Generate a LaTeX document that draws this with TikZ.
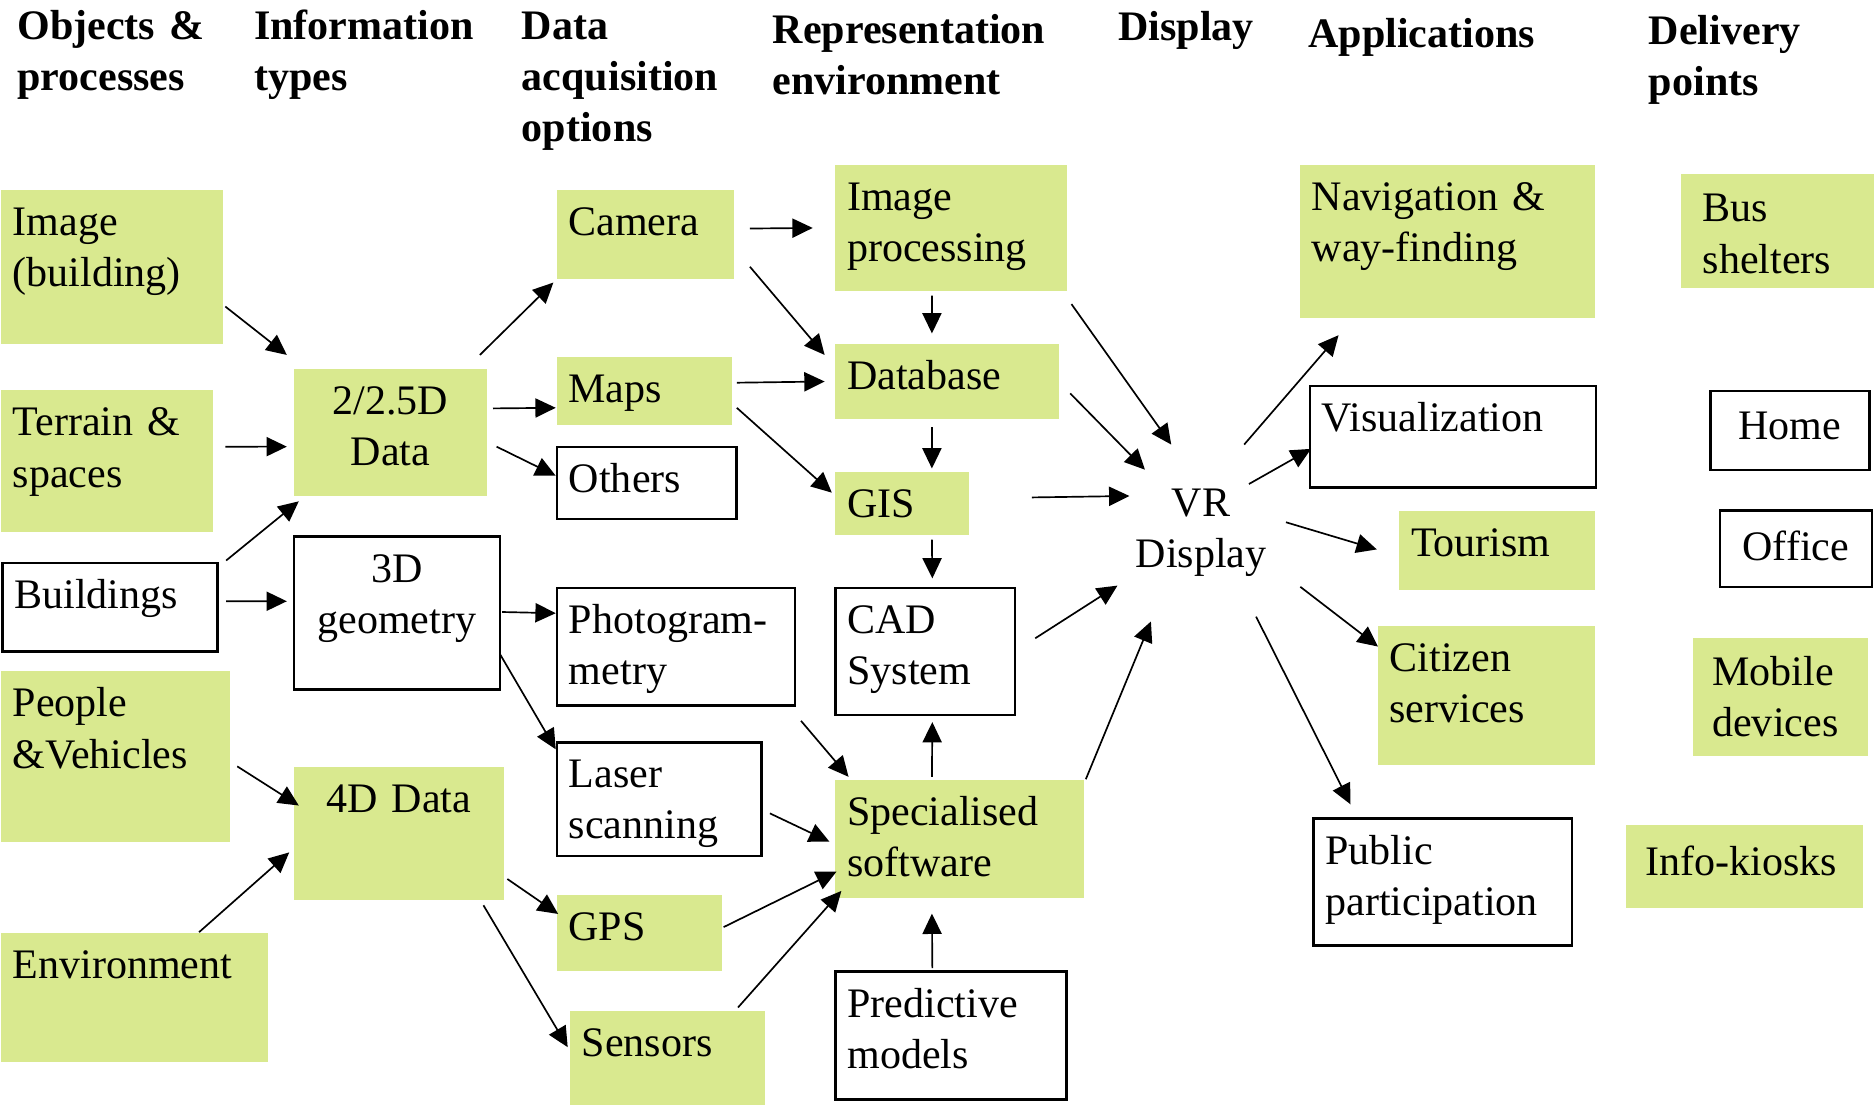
\documentclass[tikz,border=0pt]{standalone}
\usepackage{fontspec}
\setmainfont{Liberation Serif}
\usepackage{xcolor}
\usetikzlibrary{arrows.meta}
\definecolor{leaf}{RGB}{217,233,143}
\tikzstyle{myGreen}=[anchor=north west, fill=leaf, inner xsep=0.1cm, inner ysep=0pt, text height=0.38cm, align=left]
\tikzstyle{myWhite}=[myGreen, fill=white, draw, line width=0.6pt]
\tikzstyle{myHead}=[anchor=base west, inner sep=0pt, text width=2.6cm, align=left, font=\fontsize{10}{12.2}\selectfont\bfseries]
\tikzstyle{myPath}=[-{Triangle[length=0.17cm,width=0.16cm]}, line width=0.4pt]

\begin{document}
\begin{tikzpicture}[x=0.01cm, y=-0.01cm, font=\fontsize{10}{12.2}\selectfont]
   \useasboundingbox (0,0) rectangle (1568,925);

   % Column headings
   \node[myHead] (hObj) at (14,33) {Objects \&\\processes};
   \node[myHead] (hInfo) at (212,33) {Information\\types};
   \node[myHead] (hData) at (436,33) {Data\\acquisition\\options};
   \node[myHead] (hRep) at (646,36) {Representation\\environment};
   \node[myHead] (hDisp) at (935,34) {Display};
   \node[myHead] (hApp) at (1094,40) {Applications};
   \node[myHead] (hDel) at (1379,37) {Delivery\\points};

   % Objects and processes
   \node[myGreen, text width=1.66cm, text depth=0.91cm] (img) at (0,158) {Image\\(building)};
   \node[myGreen, text width=1.57cm, text depth=0.80cm] (ter) at (0,326) {Terrain \&\\spaces};
   \node[myWhite, text width=1.60cm, text depth=0.36cm] (bld) at (1,470) {Buildings};
   \node[myGreen, text width=1.72cm, text depth=1.05cm] (ppl) at (0,561) {People\\\&Vehicles};
   \node[myGreen, text width=2.03cm, text depth=0.70cm] (env) at (0,780) {Environment};

   % Information types
   \node[myGreen, align=center, text width=1.42cm, text depth=0.68cm] (d2) at (245,308) {2/2.5D\\Data};
   \node[myWhite, align=center, text width=1.52cm, text depth=0.90cm] (d3) at (245,448) {3D\\geometry};
   \node[myGreen, align=center, text width=1.56cm, text depth=0.73cm] (d4) at (245,641) {4D Data};

   % Data acquisition
   \node[myGreen, text width=1.28cm, text depth=0.37cm] (cam) at (465,158) {Camera};
   \node[myGreen, text width=1.27cm, text depth=0.19cm] (maps) at (465,298) {Maps};
   \node[myWhite, text width=1.30cm, text depth=0.22cm] (oth) at (465,373) {Others};
   \node[myWhite, text width=1.79cm, text depth=0.60cm] (pho) at (465,491) {Photogram-\\metry};
   \node[myWhite, text width=1.51cm, text depth=0.57cm] (las) at (465,620) {Laser\\scanning};
   \node[myGreen, text width=1.18cm, text depth=0.26cm] (gps) at (465,748) {GPS};
   \node[myGreen, text width=1.43cm, text depth=0.41cm] (sen) at (476,845) {Sensors};

   % Representation environment
   \node[myGreen, text width=1.74cm, text depth=0.68cm] (imp) at (698,137) {Image\\processing};
   \node[myGreen, text width=1.67cm, text depth=0.25cm] (db) at (698,287) {Database};
   \node[myGreen, text width=0.92cm, text depth=0.15cm] (gis) at (698,394) {GIS};
   \node[myWhite, text width=1.30cm, text depth=0.68cm] (cad) at (698,491) {CAD\\System};
   \node[myGreen, text width=1.88cm, text depth=0.61cm] (spec) at (698,652) {Specialised\\software};
   \node[myWhite, text width=1.73cm, text depth=0.69cm] (pred) at (698,812) {Predictive\\models};

   % Display
   \node[align=center, inner sep=0pt] (vr) at (1005,446) {VR\\Display};

   % Applications
   \node[myGreen, text width=2.27cm, text depth=0.90cm] (nav) at (1087,137) {Navigation \&\\way-finding};
   \node[myWhite, text width=2.19cm, text depth=0.47cm] (vis) at (1095,322) {Visualization};
   \node[myGreen, text width=1.44cm, text depth=0.28cm] (tour) at (1170,427) {Tourism};
   \node[myGreen, text width=1.62cm, text depth=0.78cm] (cit) at (1152,523) {Citizen\\services};
   \node[myWhite, text width=1.96cm, text depth=0.68cm] (pub) at (1098,684) {Public\\participation};

   % Delivery points
   \node[myGreen, inner xsep=0.18cm, text width=1.26cm, text height=0.40cm, text depth=0.55cm] (bus) at (1406,145) {Bus\\shelters};
   \node[myWhite, align=center, text width=1.13cm, text height=0.41cm, text depth=0.25cm] (home) at (1430,326) {Home};
   \node[myWhite, align=center, text width=1.07cm, text height=0.42cm, text depth=0.22cm] (off) at (1438,426) {Office};
   \node[myGreen, inner xsep=0.16cm, text width=1.14cm, text height=0.40cm, text depth=0.59cm] (mob) at (1416,533) {Mobile\\devices};
   \node[myGreen, inner xsep=0.16cm, text width=1.66cm, text height=0.42cm, text depth=0.27cm] (kio) at (1360,690) {Info-kiosks};

   % Draw arrows between the blocks
   \draw[myPath] ([shift={(1,-32)}]img.south east) -- ([shift={(-5,-11)}]d2.north west);
   \draw[myPath] ([shift={(10,-12)}]ter.east) -- ([shift={(-5,12)}]d2.west);
   \draw[myPath] ([shift={(6,-1)}]bld.north east) -- ([shift={(5,4)}]d2.south west);
   \draw[myPath] ([shift={(6,-5)}]bld.east) -- ([shift={(-5,-10)}]d3.west);
   \draw[myPath] ([shift={(5,8)}]ppl.east) -- ([shift={(5,33)}]d4.north west);
   \draw[myPath] ([shift={(-58,0)}]env.north east) -- ([shift={(-3,16)}]d4.west);

   \draw[myPath] ([shift={(-7,-11)}]d2.north east) -- ([shift={(-2,2)}]cam.south west);
   \draw[myPath] ([shift={(4,-20)}]d2.east) -- ([shift={(0,14)}]maps.west);
   \draw[myPath] ([shift={(7,12)}]d2.east) -- ([shift={(0,-6)}]oth.west);
   \draw[myPath] ([shift={(1,-1)}]d3.east) -- ([shift={(0,-28)}]pho.west);
   \draw[myPath] ([shift={(-1,34)}]d3.east) -- ([shift={(0,7)}]las.north west);
   \draw[myPath] ([shift={(2,-18)}]d4.south east) -- ([shift={(2,-16)}]gps.west);
   \draw[myPath] ([shift={(-18,4)}]d4.south east) -- ([shift={(-1,-9)}]sen.west);

   \draw[myPath] ([shift={(13,-5)}]cam.east) -- ([shift={(-18,0)}]imp.west);
   \draw[myPath] ([shift={(13,27)}]cam.east) -- ([shift={(-8,10)}]db.north west);
   \draw[myPath] ([shift={(3,-7)}]maps.east) -- ([shift={(-8,0)}]db.west);
   \draw[myPath] ([shift={(3,14)}]maps.east) -- ([shift={(-2,-9)}]gis.west);
   \draw[myPath] ([shift={(-16,3)}]imp.south) -- ([shift={(-12.5,-8)}]db.north);
   \draw[myPath] ([shift={(-12.5,6)}]db.south) -- ([shift={(25,-2)}]gis.north);
   \draw[myPath] ([shift={(25,3)}]gis.south) -- ([shift={(6,-7)}]cad.north);
   \draw[myPath] ([shift={(-23,-2)}]spec.north) -- ([shift={(6,5)}]cad.south);
   \draw[myPath] ([shift={(-15.5,-2)}]pred.north) -- ([shift={(-23,12)}]spec.south);
   \draw[myPath] ([shift={(4,12)}]pho.south east) -- ([shift={(12,-2)}]spec.north west);
   \draw[myPath] ([shift={(6,12)}]las.east) -- ([shift={(-4,2)}]spec.west);
   \draw[myPath] ([shift={(1,-5)}]gps.east) -- ([shift={(2,27)}]spec.west);
   \draw[myPath] ([shift={(-23,-2)}]sen.north east) -- ([shift={(6,-7)}]spec.south west);

   \draw[myPath] ([shift={(3,10)}]imp.south east) -- ([shift={(-25,-74)}]vr.center);
   \draw[myPath] ([shift={(9,10)}]db.east) -- ([shift={(-47,-53)}]vr.center);
   \draw[myPath] ([shift={(52,-5)}]gis.east) -- ([shift={(-60,-31)}]vr.center);
   \draw[myPath] ([shift={(16,-11)}]cad.east) -- ([shift={(-70,44)}]vr.center);
   \draw[myPath] ([shift={(1,0)}]spec.north east) -- ([shift={(-42,74)}]vr.center);

   \draw[myPath] ([shift={(36,-74)}]vr.center) -- ([shift={(33,14)}]nav.south west);
   \draw[myPath] ([shift={(40,-41)}]vr.center) -- ([shift={(2,10)}]vis.west);
   \draw[myPath] ([shift={(71,-9)}]vr.center) -- ([shift={(-18,-1)}]tour.west);
   \draw[myPath] ([shift={(83,45)}]vr.center) -- ([shift={(1,18)}]cit.north west);
   \draw[myPath] ([shift={(46,70)}]vr.center) -- ([shift={(32,-11)}]pub.north west);

\end{tikzpicture}
\end{document}
